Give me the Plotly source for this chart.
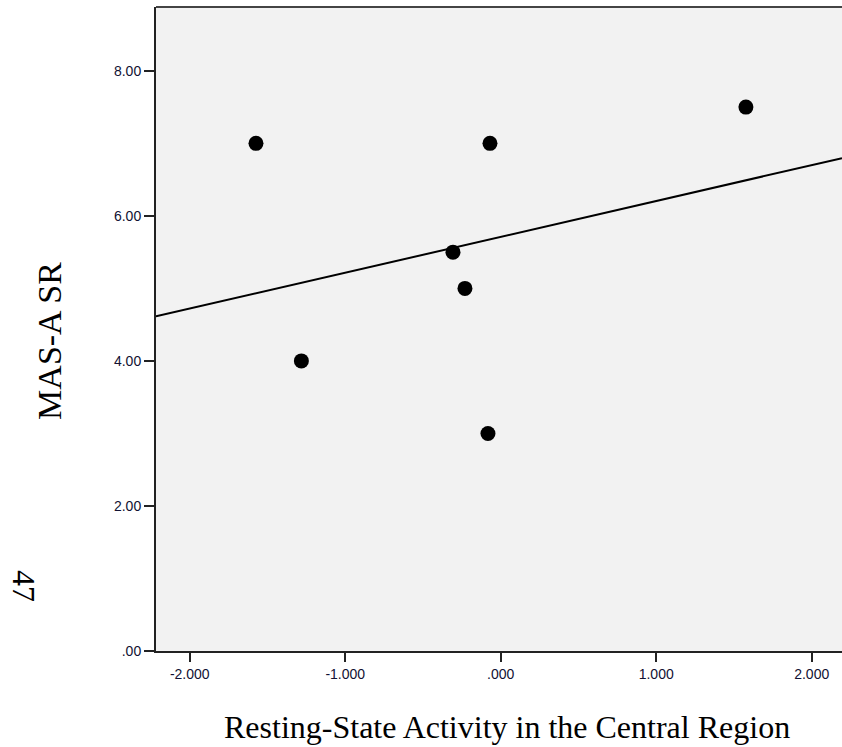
import numpy as np
import plotly.graph_objects as go

# Data
resting_state = [-1.574, -1.282, -0.307, -0.230, -0.069, -0.082, 1.577]
mas_a_sr = [7.0, 4.0, 5.5, 5.0, 7.0, 3.0, 7.5]

x_tickvals = [-2, -1, 0, 1, 2]
x_ticktext = ["-2.000", "-1.000", ".000", "1.000", "2.000"]
y_tickvals = [0, 2, 4, 6, 8]
y_ticktext = [".00", "2.00", "4.00", "6.00", "8.00"]

x_range = [-2.217, 2.195]
y_range = [0, 8.88]

# Linear fit line (least squares) across the axis range
slope, intercept = np.polyfit(resting_state, mas_a_sr, 1)
fit_x = np.array(x_range)
fit_y = slope * fit_x + intercept

fig = go.Figure()
fig.add_trace(go.Scatter(
    x=fit_x, y=fit_y, mode="lines",
    line=dict(color="black", width=2),
    hoverinfo="skip", showlegend=False, cliponaxis=True,
))
fig.add_trace(go.Scatter(
    x=resting_state, y=mas_a_sr, mode="markers",
    marker=dict(color="black", size=15, line=dict(width=0)),
    showlegend=False,
))

tick_font = dict(family="Liberation Sans, Arial, sans-serif", size=14, color="#111133")
serif = "Liberation Serif, Times New Roman, serif"

fig.update_layout(
    width=842, height=747,
    margin=dict(l=156, r=0, t=7, b=96),
    paper_bgcolor="white",
    plot_bgcolor="#f2f2f2",
    xaxis=dict(
        range=x_range, tickvals=x_tickvals, ticktext=x_ticktext,
        showgrid=False, zeroline=False,
        showline=True, linecolor="#222222", linewidth=2,
        ticks="outside", ticklen=9, tickwidth=2, tickcolor="#222222",
        tickfont=tick_font,
    ),
    yaxis=dict(
        range=y_range, tickvals=y_tickvals, ticktext=y_ticktext,
        showgrid=False, zeroline=False,
        showline=True, linecolor="#222222", linewidth=2,
        ticks="outside", ticklen=10, tickwidth=2, tickcolor="#222222",
        tickfont=tick_font,
    ),
    shapes=[dict(
        type="line", xref="paper", yref="paper", x0=0, x1=1, y0=1, y1=1,
        line=dict(color="#444444", width=2),
    )],
    annotations=[
        dict(text="Resting-State Activity in the Central Region",
             xref="paper", yref="paper", x=0.5117, y=-0.118,
             xanchor="center", yanchor="middle", showarrow=False,
             font=dict(family=serif, size=32, color="black")),
        dict(text="MAS-A SR",
             xref="paper", yref="paper", x=-0.155, y=0.481,
             xanchor="center", yanchor="middle", showarrow=False, textangle=-90,
             font=dict(family=serif, size=34, color="black")),
        dict(text="47",
             xref="paper", yref="paper", x=-0.1924, y=0.101,
             xanchor="center", yanchor="middle", showarrow=False, textangle=90,
             font=dict(family=serif, size=32, color="black")),
    ],
)

fig.write_html(
    "out.html",
    config={"displayModeBar": False},
    post_script="document.body.style.margin='0';document.body.style.overflow='hidden';",
)
